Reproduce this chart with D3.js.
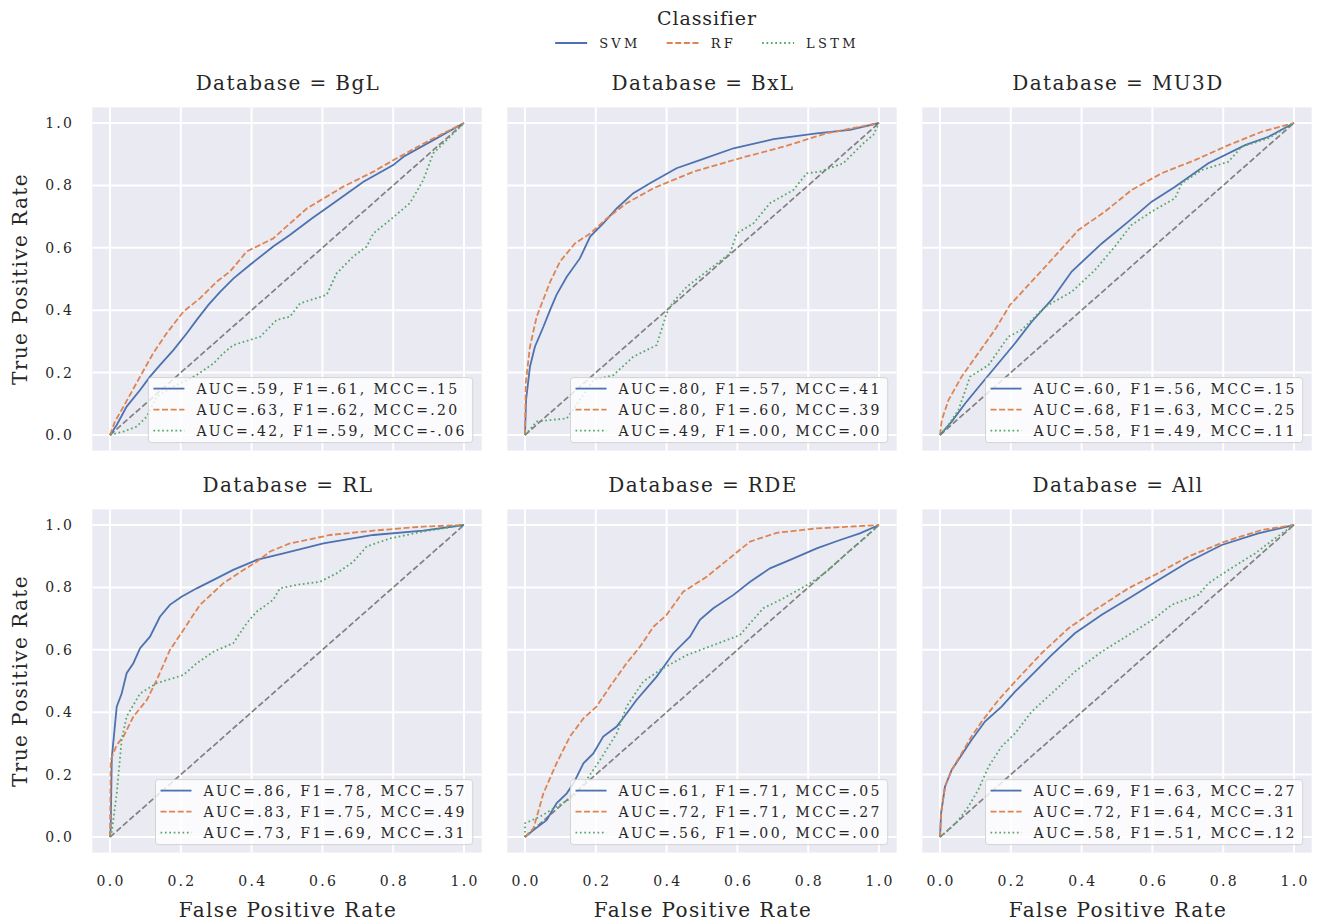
<!DOCTYPE html>
<html>
<head>
<meta charset="utf-8">
<script src="https://cdn.jsdelivr.net/npm/d3@7"></script>
<style>
  body { margin: 0; background: #fff; }
  svg text { font-family: "DejaVu Serif", "Liberation Serif", serif; fill: #262626; }
</style>
</head>
<body>
<div id="chart"></div>
<script>
// ---- data ----
const databases = ["BgL", "BxL", "MU3D", "RL", "RDE", "All"];
const classifiers = ["SVM", "RF", "LSTM"];
const colors = ["#4c72b0", "#dd8452", "#55a868"];
const ticks = [0.0, 0.2, 0.4, 0.6, 0.8, 1.0];

// ROC points [fpr, tpr]
const bglSvm = [[0,0],[0.019,0.032],[0.047,0.091],[0.085,0.144],[0.113,0.187],[0.141,0.224],[0.179,0.272],[0.217,0.326],[0.245,0.369],[0.278,0.417],[0.311,0.459],[0.349,0.502],[0.395,0.545],[0.461,0.604],[0.508,0.641],[0.570,0.694],[0.631,0.743],[0.716,0.812],[0.800,0.865],[0.829,0.892],[0.913,0.945],[1,1]];
const bglRf = [[0,0],[0.014,0.043],[0.038,0.091],[0.085,0.187],[0.122,0.262],[0.160,0.326],[0.207,0.395],[0.254,0.438],[0.301,0.491],[0.339,0.524],[0.386,0.588],[0.461,0.630],[0.556,0.726],[0.659,0.796],[0.744,0.844],[0.810,0.887],[0.904,0.945],[1,1]];
const bglLstm = [[0,0],[0.038,0.011],[0.075,0.027],[0.104,0.059],[0.132,0.123],[0.179,0.155],[0.245,0.192],[0.292,0.229],[0.320,0.262],[0.348,0.288],[0.424,0.315],[0.471,0.369],[0.508,0.379],[0.537,0.422],[0.612,0.449],[0.640,0.518],[0.687,0.572],[0.725,0.604],[0.744,0.646],[0.791,0.689],[0.847,0.743],[0.885,0.817],[0.913,0.903],[0.951,0.945],[1,1]];

const bxlSvm = [[0,0],[0.003,0.112],[0.014,0.219],[0.028,0.283],[0.052,0.347],[0.071,0.401],[0.089,0.449],[0.118,0.507],[0.155,0.566],[0.184,0.636],[0.221,0.678],[0.259,0.726],[0.306,0.775],[0.353,0.807],[0.428,0.855],[0.494,0.881],[0.589,0.919],[0.702,0.948],[0.824,0.967],[0.918,0.978],[1,1]];
const bxlRf = [[0,0],[0.002,0.166],[0.014,0.283],[0.033,0.379],[0.071,0.491],[0.099,0.556],[0.141,0.614],[0.184,0.646],[0.231,0.694],[0.287,0.743],[0.363,0.791],[0.476,0.844],[0.607,0.887],[0.730,0.924],[0.852,0.967],[1,1]];
const bxlLstm = [[0,0],[0.033,0.043],[0.071,0.048],[0.118,0.053],[0.155,0.112],[0.193,0.176],[0.250,0.192],[0.306,0.251],[0.372,0.288],[0.400,0.390],[0.419,0.427],[0.457,0.475],[0.513,0.524],[0.579,0.582],[0.598,0.646],[0.645,0.678],[0.692,0.743],[0.758,0.785],[0.796,0.839],[0.833,0.844],[0.899,0.871],[0.956,0.935],[0.984,0.962],[1,1]];

const mu3dSvm = [[0,0],[0.033,0.043],[0.071,0.101],[0.118,0.166],[0.165,0.230],[0.212,0.294],[0.259,0.363],[0.315,0.433],[0.372,0.524],[0.457,0.614],[0.532,0.684],[0.598,0.748],[0.664,0.796],[0.758,0.871],[0.862,0.929],[0.928,0.956],[1,1]];
const mu3dRf = [[0,0],[0.005,0.048],[0.024,0.112],[0.061,0.187],[0.108,0.262],[0.155,0.337],[0.198,0.417],[0.250,0.481],[0.306,0.550],[0.391,0.657],[0.466,0.716],[0.541,0.785],[0.626,0.839],[0.720,0.881],[0.815,0.929],[0.909,0.972],[1,1]];
const mu3dLstm = [[0,0],[0.024,0.032],[0.052,0.080],[0.085,0.187],[0.137,0.224],[0.193,0.315],[0.231,0.337],[0.297,0.411],[0.372,0.459],[0.438,0.529],[0.494,0.604],[0.541,0.673],[0.598,0.716],[0.664,0.759],[0.683,0.807],[0.739,0.849],[0.815,0.876],[0.852,0.924],[0.928,0.951],[1,1]];

const rlSvm = [[0,0],[0.002,0.03],[0.005,0.252],[0.019,0.418],[0.033,0.460],[0.047,0.525],[0.066,0.557],[0.085,0.605],[0.113,0.642],[0.141,0.706],[0.169,0.744],[0.202,0.770],[0.245,0.797],[0.301,0.829],[0.348,0.856],[0.414,0.888],[0.490,0.909],[0.603,0.941],[0.744,0.968],[0.885,0.982],[1,1]];
const rlRf = [[0,0],[0.002,0.247],[0.019,0.295],[0.038,0.322],[0.066,0.386],[0.104,0.439],[0.132,0.503],[0.169,0.599],[0.207,0.663],[0.254,0.744],[0.320,0.813],[0.377,0.856],[0.414,0.882],[0.452,0.915],[0.508,0.941],[0.622,0.968],[0.744,0.982],[0.885,0.995],[1,1]];
const rlLstm = [[0,0],[0.005,0.017],[0.019,0.140],[0.033,0.311],[0.047,0.386],[0.085,0.460],[0.132,0.493],[0.207,0.519],[0.245,0.557],[0.292,0.594],[0.348,0.621],[0.386,0.685],[0.414,0.722],[0.461,0.760],[0.480,0.797],[0.527,0.808],[0.593,0.818],[0.640,0.845],[0.687,0.882],[0.725,0.931],[0.791,0.957],[0.885,0.979],[1,1]];

const rdeSvm = [[0,0],[0.024,0.022],[0.061,0.054],[0.089,0.108],[0.118,0.140],[0.137,0.172],[0.165,0.236],[0.193,0.268],[0.221,0.322],[0.259,0.354],[0.287,0.396],[0.315,0.439],[0.372,0.514],[0.419,0.589],[0.466,0.642],[0.494,0.696],[0.532,0.733],[0.589,0.776],[0.636,0.818],[0.692,0.861],[0.749,0.888],[0.824,0.925],[0.890,0.952],[0.946,0.973],[1,1]];
const rdeRf = [[0,0],[0.024,0.028],[0.052,0.140],[0.089,0.236],[0.127,0.322],[0.165,0.380],[0.202,0.418],[0.240,0.482],[0.287,0.557],[0.325,0.610],[0.363,0.674],[0.400,0.712],[0.447,0.786],[0.513,0.834],[0.589,0.904],[0.636,0.947],[0.711,0.975],[0.824,0.989],[1,1]];
const rdeLstm = [[0,0],[0,0.044],[0.042,0.065],[0.089,0.097],[0.137,0.129],[0.174,0.183],[0.212,0.247],[0.259,0.332],[0.287,0.418],[0.334,0.498],[0.381,0.535],[0.457,0.583],[0.532,0.615],[0.607,0.647],[0.636,0.685],[0.673,0.733],[0.730,0.765],[0.805,0.813],[0.852,0.850],[0.909,0.909],[0.965,0.963],[1,1]];

const allSvm = [[0,0],[0.003,0.076],[0.014,0.161],[0.033,0.215],[0.061,0.263],[0.089,0.311],[0.127,0.370],[0.174,0.418],[0.212,0.466],[0.259,0.519],[0.315,0.583],[0.381,0.653],[0.457,0.712],[0.541,0.770],[0.617,0.824],[0.702,0.882],[0.796,0.936],[0.899,0.973],[1,1]];
const allRf = [[0,0],[0.003,0.076],[0.014,0.161],[0.033,0.215],[0.061,0.268],[0.089,0.322],[0.118,0.370],[0.165,0.439],[0.212,0.498],[0.287,0.589],[0.363,0.669],[0.438,0.728],[0.532,0.797],[0.607,0.840],[0.702,0.899],[0.805,0.947],[0.909,0.984],[1,1]];
const allLstm = [[0,0],[0.024,0.022],[0.052,0.054],[0.080,0.097],[0.108,0.151],[0.137,0.225],[0.174,0.290],[0.212,0.332],[0.259,0.402],[0.315,0.460],[0.381,0.530],[0.457,0.594],[0.532,0.647],[0.607,0.701],[0.654,0.744],[0.730,0.776],[0.758,0.813],[0.815,0.856],[0.890,0.909],[0.946,0.957],[1,1]];

// legend labels per panel (SVM, RF, LSTM)
const bglScores  = ["AUC=.59, F1=.61, MCC=.15", "AUC=.63, F1=.62, MCC=.20", "AUC=.42, F1=.59, MCC=-.06"];
const bxlScores  = ["AUC=.80, F1=.57, MCC=.41", "AUC=.80, F1=.60, MCC=.39", "AUC=.49, F1=.00, MCC=.00"];
const mu3dScores = ["AUC=.60, F1=.56, MCC=.15", "AUC=.68, F1=.63, MCC=.25", "AUC=.58, F1=.49, MCC=.11"];
const rlScores   = ["AUC=.86, F1=.78, MCC=.57", "AUC=.83, F1=.75, MCC=.49", "AUC=.73, F1=.69, MCC=.31"];
const rdeScores  = ["AUC=.61, F1=.71, MCC=.05", "AUC=.72, F1=.71, MCC=.27", "AUC=.56, F1=.00, MCC=.00"];
const allScores  = ["AUC=.69, F1=.63, MCC=.27", "AUC=.72, F1=.64, MCC=.31", "AUC=.58, F1=.51, MCC=.12"];

const curves = [
  [bglSvm, bglRf, bglLstm], [bxlSvm, bxlRf, bxlLstm], [mu3dSvm, mu3dRf, mu3dLstm],
  [rlSvm, rlRf, rlLstm], [rdeSvm, rdeRf, rdeLstm], [allSvm, allRf, allLstm]
];
const scores = [bglScores, bxlScores, mu3dScores, rlScores, rdeScores, allScores];

// ---- layout ----
const W = 1318, H = 922;
const colLeft = [92.3, 507.3, 922.3];
const rowTop = [107.4, 509.4];
const pw = 389.4, ph = 343.2;
const dashes = [null, "6,2.6", "1.7,2.7"];

const svg = d3.select("#chart").append("svg")
  .attr("width", W).attr("height", H);

databases.forEach((db, i) => {
  const r = Math.floor(i / 3), c = i % 3;
  const x = d3.scaleLinear().domain([-0.05, 1.05]).range([colLeft[c], colLeft[c] + pw]);
  const y = d3.scaleLinear().domain([-0.05, 1.05]).range([rowTop[r] + ph, rowTop[r]]);
  const g = svg.append("g");

  g.append("rect")
    .attr("x", colLeft[c]).attr("y", rowTop[r])
    .attr("width", pw).attr("height", ph)
    .attr("fill", "#eaeaf2");

  // grid
  g.append("g").selectAll("line").data(ticks).join("line")
    .attr("x1", d => x(d)).attr("x2", d => x(d))
    .attr("y1", rowTop[r]).attr("y2", rowTop[r] + ph)
    .attr("stroke", "#fff").attr("stroke-width", 2);
  g.append("g").selectAll("line").data(ticks).join("line")
    .attr("y1", d => y(d)).attr("y2", d => y(d))
    .attr("x1", colLeft[c]).attr("x2", colLeft[c] + pw)
    .attr("stroke", "#fff").attr("stroke-width", 2);

  // tick labels
  if (c === 0) {
    g.append("g").selectAll("text").data(ticks).join("text")
      .attr("x", colLeft[c] - 18).attr("y", d => y(d))
      .attr("dy", "0.36em").attr("text-anchor", "end")
      .style("font-size", "14px").style("letter-spacing", "2.3px")
      .text(d => d.toFixed(1));
    g.append("text")
      .attr("transform", `translate(27,${rowTop[r] + ph / 2}) rotate(-90)`)
      .attr("text-anchor", "middle")
      .style("font-size", "20px").style("letter-spacing", "1.4px")
      .text("True Positive Rate");
  }
  if (r === 1) {
    g.append("g").selectAll("text").data(ticks).join("text")
      .attr("x", d => x(d) + 1.2).attr("y", rowTop[r] + ph + 33)
      .attr("text-anchor", "middle")
      .style("font-size", "14px").style("letter-spacing", "2.3px")
      .text(d => d.toFixed(1));
    g.append("text")
      .attr("x", colLeft[c] + pw / 2 + 1).attr("y", rowTop[r] + ph + 64)
      .attr("text-anchor", "middle")
      .style("font-size", "20px").style("letter-spacing", "1.4px")
      .text("False Positive Rate");
  }

  // title
  g.append("text")
    .attr("x", colLeft[c] + pw / 2 + 1).attr("y", rowTop[r] - 17)
    .attr("text-anchor", "middle")
    .style("font-size", "20px").style("letter-spacing", "1.4px")
    .text(`Database = ${db}`);

  // chance diagonal
  g.append("line")
    .attr("x1", x(0)).attr("y1", y(0)).attr("x2", x(1)).attr("y2", y(1))
    .attr("stroke", "#808080").attr("stroke-width", 1.7)
    .attr("stroke-dasharray", "6,2.6");

  const line = d3.line().x(d => x(d[0])).y(d => y(d[1]));
  g.append("g").selectAll("path").data(curves[i]).join("path")
    .attr("d", line)
    .attr("fill", "none")
    .attr("stroke", (d, k) => colors[k])
    .attr("stroke-width", 1.8)
    .attr("stroke-dasharray", (d, k) => dashes[k]);

  // inner legend, lower right
  const lg = g.append("g");
  const box = lg.append("rect");
  const rows = lg.selectAll("g").data(scores[i]).join("g");
  const texts = rows.append("text")
    .attr("dy", "0.36em")
    .style("font-size", "14px").style("letter-spacing", "2.35px")
    .text(d => d);
  const tw = d3.max(texts.nodes(), n => n.getComputedTextLength());
  const bw = 48 + tw + 6, bh = 65;
  const bx = colLeft[c] + pw - 9 - bw, by = rowTop[r] + ph - 8 - bh;
  box.attr("x", bx).attr("y", by).attr("width", bw).attr("height", bh)
    .attr("rx", 3).attr("fill", "#ffffff").attr("fill-opacity", 0.8)
    .attr("stroke", "#cccccc").attr("stroke-opacity", 0.8).attr("stroke-width", 1);
  texts.attr("x", bx + 48).attr("y", (d, k) => by + 11 + k * 21);
  rows.append("line")
    .attr("x1", bx + 5).attr("x2", bx + 36)
    .attr("y1", (d, k) => by + 11 + k * 21).attr("y2", (d, k) => by + 11 + k * 21)
    .attr("stroke", (d, k) => colors[k]).attr("stroke-width", 1.8)
    .attr("stroke-dasharray", (d, k) => dashes[k]);
});

// top legend
svg.append("text")
  .attr("x", 707).attr("y", 25)
  .attr("text-anchor", "middle")
  .style("font-size", "19px").style("letter-spacing", "0.9px")
  .text("Classifier");

const topLegend = svg.append("g");
const items = topLegend.selectAll("g").data(classifiers).join("g");
items.append("line")
  .attr("x1", 0).attr("x2", 32).attr("y1", 0).attr("y2", 0)
  .attr("stroke", (d, k) => colors[k]).attr("stroke-width", 1.8)
  .attr("stroke-dasharray", (d, k) => dashes[k]);
const labs = items.append("text")
  .attr("x", 44).attr("dy", "0.36em")
  .style("font-size", "13px").style("letter-spacing", "3.3px")
  .text(d => d);
let cx = 0;
items.each(function (d, k) {
  d3.select(this).attr("transform", `translate(${cx},0)`);
  cx += 44 + labs.nodes()[k].getComputedTextLength() + 26;
});
const totalW = cx - 26;
topLegend.attr("transform", `translate(${707 - totalW / 2},43)`);
</script>
</body>
</html>
